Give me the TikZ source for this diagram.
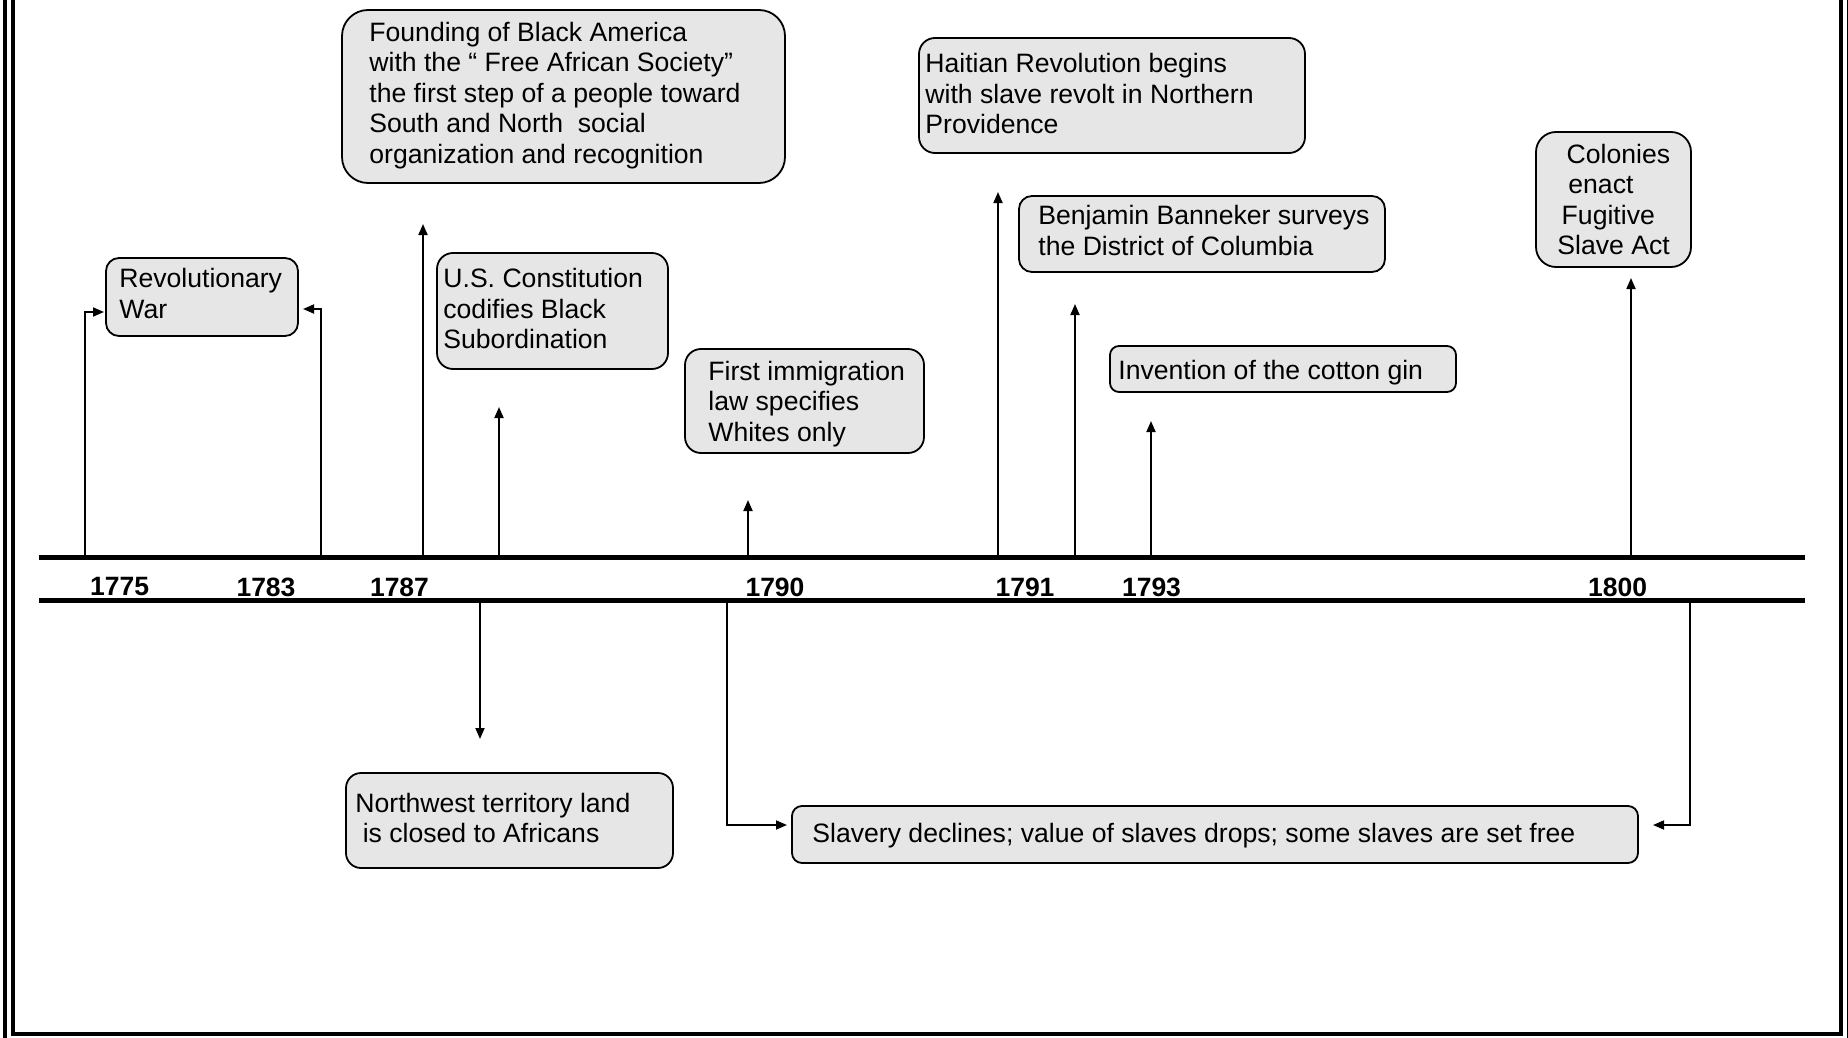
\documentclass[tikz,border=0pt]{standalone}
\usepackage{fontspec}
\setmainfont{Liberation Sans}
\usetikzlibrary{arrows.meta}
\definecolor{boxfill}{HTML}{E6E6E6}
\begin{document}
\begin{tikzpicture}[x=0.5pt,y=-0.5pt,
  evt/.style={draw, line width=0.9pt, fill=boxfill, inner sep=0pt, outer sep=0pt, anchor=north west},
  txt/.style={anchor=west, align=left, inner sep=0pt, font=\fontsize{13.3}{15.3}\selectfont},
  conn/.style={line width=0.9pt, -{Triangle[length=5.5pt,width=4.5pt]}},
  yr/.style={font=\fontsize{13.25}{15.3}\selectfont\bfseries, inner sep=0pt},
  tline/.style={line width=2.5pt},
  frameline/.style={line width=2pt}]
\clip (0,0) rectangle (1848,1038);
\fill[white] (0,0) rectangle (1848,1038);
% page frame
\draw[frameline] (5,-10) -- (5,1048);
\draw[frameline] (1848.5,-10) -- (1848.5,1048);
\draw[frameline] (13,-10) -- (13,1034) -- (1841,1034) -- (1841,-10);

% timeline
\draw[tline] (39,557.5) -- (1805,557.5);
\draw[tline] (39,600) -- (1805,600);

% years
\node[yr] (y1775) at (119.6,587) {1775};
\node[yr] (y1783) at (266,587) {1783};
\node[yr] (y1787) at (399.5,587) {1787};
\node[yr] (y1790) at (775,587) {1790};
\node[yr] (y1791) at (1025,587) {1791};
\node[yr] (y1793) at (1151.5,587) {1793};
\node[yr] (y1800) at (1617.6,587) {1800};

% event boxes
\node[evt, rounded corners=6.5pt, minimum width=96pt, minimum height=39pt,
  label={[txt,xshift=6.5pt,yshift=1.75pt]west:{Revolutionary\\War}}] (rev) at (106,258) {};
\node[evt, rounded corners=13pt, minimum width=221.5pt, minimum height=86.5pt,
  label={[txt,xshift=13.5pt,yshift=0.5pt]west:{Founding of Black America\\with the “ Free African Society”\\the first step of a people toward\\South and North\ \ social\\organization and recognition}}] (found) at (342,10) {};
\node[evt, rounded corners=8pt, minimum width=115.5pt, minimum height=58pt,
  label={[txt,xshift=3pt,yshift=1.2pt]west:{U.S. Constitution\\codifies Black\\Subordination}}] (const) at (437,253) {};
\node[evt, rounded corners=8pt, minimum width=119.5pt, minimum height=52pt,
  label={[txt,xshift=11.5pt,yshift=-1.5pt]west:{First immigration\\law specifies\\Whites only}}] (immig) at (685,349) {};
\node[evt, rounded corners=8pt, minimum width=193pt, minimum height=57.5pt,
  label={[txt,xshift=3pt,yshift=0.9pt]west:{Haitian Revolution begins\\with slave revolt in Northern\\Providence}}] (haiti) at (919,38) {};
\node[evt, rounded corners=6.5pt, minimum width=183pt, minimum height=38pt,
  label={[txt,xshift=9.5pt,yshift=1.75pt]west:{Benjamin Banneker surveys\\the District of Columbia}}] (bann) at (1019,196) {};
\node[evt, rounded corners=4.5pt, minimum width=173pt, minimum height=23pt,
  label={[txt,xshift=4pt,yshift=-1.75pt]west:{Invention of the cotton gin}}] (cotton) at (1110,346) {};
\node[evt, rounded corners=10pt, minimum width=77.5pt, minimum height=67.5pt,
  label={[txt,xshift=10.5pt]west:{\hspace*{4.65pt}Colonies\\\hspace*{5.5pt}enact\\\hspace*{2.15pt}Fugitive\\Slave Act}}] (colon) at (1536,132) {};
\node[evt, rounded corners=7.5pt, minimum width=163.5pt, minimum height=47.5pt,
  label={[txt,xshift=4.5pt,yshift=1.2pt]west:{Northwest territory land\\\hspace*{3.7pt}is closed to Africans}}] (nw) at (346,773) {};
\node[evt, rounded corners=5pt, minimum width=423pt, minimum height=28.5pt,
  label={[txt,xshift=10pt,yshift=-0.5pt]west:{Slavery declines; value of slaves drops; some slaves are set free}}] (slav) at (792,806) {};

% connector anchors on the timeline and free ends
\coordinate (c1) at (85,557.5);    \coordinate (c1e) at (104,312);
\coordinate (c2) at (321,557.5);   \coordinate (c2e) at (303,309);
\coordinate (c3) at (423,557.5);   \coordinate (c3e) at (423,224);
\coordinate (c4) at (499,557.5);   \coordinate (c4e) at (499,407);
\coordinate (c5) at (748,557.5);   \coordinate (c5e) at (748,500);
\coordinate (c6) at (998,557.5);   \coordinate (c6e) at (998,192);
\coordinate (c7) at (1075,557.5);  \coordinate (c7e) at (1075,304);
\coordinate (c8) at (1151,557.5);  \coordinate (c8e) at (1151,421);
\coordinate (c9) at (1631,557.5);  \coordinate (c9e) at (1631,278);
\coordinate (d1) at (480,600);     \coordinate (d1e) at (480,739);
\coordinate (d2) at (727,600);     \coordinate (d2e) at (787,825);
\coordinate (d3) at (1690,600);    \coordinate (d3e) at (1653,825);

\draw[conn] (c1) |- (c1e);
\draw[conn] (c2) |- (c2e);
\draw[conn] (c3) -- (c3e);
\draw[conn] (c4) -- (c4e);
\draw[conn] (c5) -- (c5e);
\draw[conn] (c6) -- (c6e);
\draw[conn] (c7) -- (c7e);
\draw[conn] (c8) -- (c8e);
\draw[conn] (c9) -- (c9e);
\draw[conn] (d1) -- (d1e);
\draw[conn] (d2) |- (d2e);
\draw[conn] (d3) |- (d3e);
\end{tikzpicture}
\end{document}
